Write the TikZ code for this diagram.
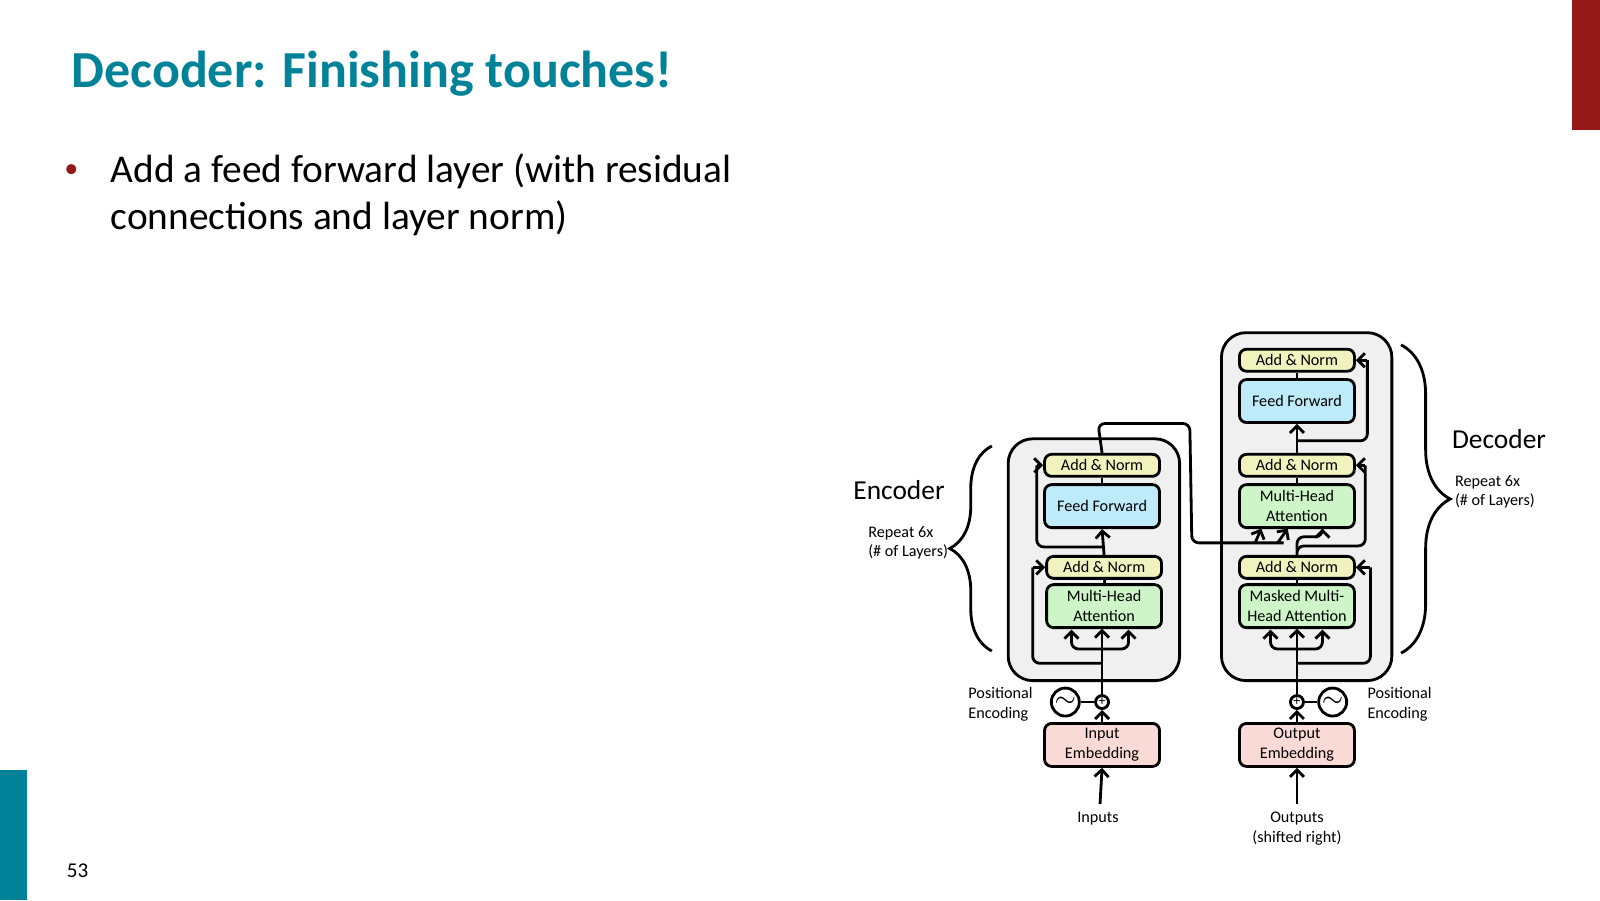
\documentclass[tikz,border=0pt]{standalone}
\usepackage{fontspec}
\setmainfont{Carlito}
\usetikzlibrary{decorations.pathreplacing,arrows.meta}
\definecolor{teal}{RGB}{0,130,152}
\definecolor{darkred}{RGB}{150,25,25}
\definecolor{normc}{RGB}{240,243,190}
\definecolor{ffc}{RGB}{190,235,250}
\definecolor{attc}{RGB}{205,245,200}
\definecolor{embc}{RGB}{250,218,212}
\tikzset{
  blk/.style={draw, thick, rounded corners=2pt, minimum width=1.15cm, align=center,
    inner sep=0pt, font=\fontsize{4.6}{5.6}\selectfont},
  normbox/.style={blk, fill=normc, minimum height=0.22cm},
  bigbox/.style={blk, minimum height=0.43cm},
  layerbox/.style={draw, thick, fill=gray!12, rounded corners=7pt},
  lbl/.style={font=\fontsize{4.6}{5.6}\selectfont, align=left},
  arr/.style={thick, -{Straight Barb[length=2pt]}},
  wire/.style={thick, rounded corners=2pt},
}
\begin{document}
\begin{tikzpicture}[x=0.010204cm, y=-0.010204cm]
  \useasboundingbox (0,0) rectangle (1568,882);
  % slide decorations
  \fill[darkred] (1541,0) rectangle (1568,127);
  \fill[teal] (0,755) rectangle (26,882);
  \node[anchor=west, text=teal, font=\fontsize{14.8}{17}\selectfont\bfseries] (title) at (58,72) {Decoder: Finishing touches!};
  \node[text=darkred, font=\fontsize{8}{10}\selectfont] (dot) at (70,168) {•};
  \node[anchor=north west, align=left, font=\fontsize{11.2}{13.4}\selectfont, inner sep=0pt] (bullet) at (108,150)
    {Add a feed forward layer (with residual\\connections and layer norm)};
  \node[font=\fontsize{6}{7}\selectfont] (page) at (76,853) {53};

  % layer boxes
  \draw[layerbox] (988,430) rectangle (1156,667);
  \draw[layerbox] (1197,326) rectangle (1364,667);

  % encoder
  \node[normbox] (ean2) at (1080,456) {Add \& Norm};
  \node[bigbox, fill=ffc] (eff) at (1080,496) {Feed Forward};
  \node[normbox] (ean1) at (1082,556) {Add \& Norm};
  \node[bigbox, fill=attc] (emha) at (1082,594) {Multi-Head\\Attention};
  \node[bigbox, fill=embc] (iemb) at (1080,730) {Input\\Embedding};
  \node[draw, thick, circle, inner sep=0pt, minimum size=0.13cm, font=\fontsize{4}{4}\selectfont] (eplus) at (1080,688) {+};
  \node[draw, thick, circle, inner sep=0pt, minimum size=0.28cm, font=\fontsize{7}{7}\selectfont] (esin) at (1044,688) {$\sim$};

  % decoder
  \node[normbox] (dan3) at (1271,353) {Add \& Norm};
  \node[bigbox, fill=ffc] (dff) at (1271,393) {Feed Forward};
  \node[normbox] (dan2) at (1271,456) {Add \& Norm};
  \node[bigbox, fill=attc] (dmha) at (1271,496) {Multi-Head\\Attention};
  \node[normbox] (dan1) at (1271,556) {Add \& Norm};
  \node[bigbox, fill=attc] (dmmha) at (1271,594) {Masked Multi-\\Head Attention};
  \node[bigbox, fill=embc] (oemb) at (1271,730) {Output\\Embedding};
  \node[draw, thick, circle, inner sep=0pt, minimum size=0.13cm, font=\fontsize{4}{4}\selectfont] (dplus) at (1271,688) {+};
  \node[draw, thick, circle, inner sep=0pt, minimum size=0.28cm, font=\fontsize{7}{7}\selectfont] (dsin) at (1306,688) {$\sim$};

  % labels
  \node[lbl, anchor=east] (epos) at (1024,690) {Positional\\Encoding};
  \node[lbl, anchor=west] (dpos) at (1328,690) {Positional\\Encoding};
  \node[lbl] (inp) at (1076,802) {Inputs};
  \node[lbl, align=center] (outp) at (1271,812) {Outputs\\(shifted right)};
  \node[font=\fontsize{7.8}{9}\selectfont] (enclbl) at (881,480) {Encoder};
  \node[lbl] (erep) at (890,532) {Repeat 6x\\(\# of Layers)};
  \node[font=\fontsize{7.8}{9}\selectfont] (declbl) at (1469,430) {Decoder};
  \node[lbl] (drep) at (1465,482) {Repeat 6x\\(\# of Layers)};

  % braces
  \draw[thick, decorate, decoration={brace, amplitude=12pt}] (972,638) -- (972,437);
  \draw[thick, decorate, decoration={brace, amplitude=14pt}] (1373,338) -- (1373,640);

  % encoder wiring
  \draw[arr] (1078,788) -- (iemb.south);
  \draw[thick] (esin) -- (eplus);
  \draw[arr] (iemb.north) -- (eplus.south);
  \draw[arr] (eplus.north) -- (1080,616);
  \draw[wire] (1080,650) -- (1012,650) -- (1012,556);
  \draw[arr] (1012,556) -- (ean1.west);
  \draw[wire, arr] (1080,636) -- (1050,636) -- (1050,617);
  \draw[wire, arr] (1080,636) -- (1106,636) -- (1106,617);
  \draw[thick] (emha.north) -- (ean1.south);
  \draw[arr] (ean1.north) -- (eff.south);
  \draw[wire] (1080,536) -- (1016,536) -- (1016,456);
  \draw[arr] (1016,456) -- (ean2.west);
  \draw[thick] (eff.north) -- (ean2.south);
  \draw[wire] (ean2.north) -- (1076,415) -- (1166,415) -- (1168,532) -- (1258,532);
  \draw[wire, arr] (1230,532) -- (1236,518);
  \draw[wire, arr] (1252,532) -- (1262,518);

  % decoder wiring
  \draw[arr] (1271,788) -- (oemb.south);
  \draw[thick] (dsin) -- (dplus);
  \draw[arr] (oemb.north) -- (dplus.south);
  \draw[arr] (dplus.north) -- (1271,616);
  \draw[wire] (1271,650) -- (1343,650) -- (1343,556);
  \draw[arr] (1343,556) -- (dan1.east);
  \draw[wire, arr] (1271,636) -- (1245,636) -- (1245,617);
  \draw[wire, arr] (1271,636) -- (1296,636) -- (1296,617);
  \draw[thick] (dmmha.north) -- (dan1.south);
  \draw[wire] (dan1.north) -- (1271,535) -- (1338,535) -- (1338,456);
  \draw[wire, arr] (1271,540) -- (1271,526) -- (1296,526) -- (1296,518);
  \draw[arr] (1338,456) -- (dan2.east);
  \draw[thick] (dmha.north) -- (dan2.south);
  \draw[arr] (dan2.north) -- (dff.south);
  \draw[wire] (1271,432) -- (1340,432) -- (1340,353);
  \draw[arr] (1340,353) -- (dan3.east);
  \draw[thick] (dff.north) -- (dan3.south);
\end{tikzpicture}
\end{document}
